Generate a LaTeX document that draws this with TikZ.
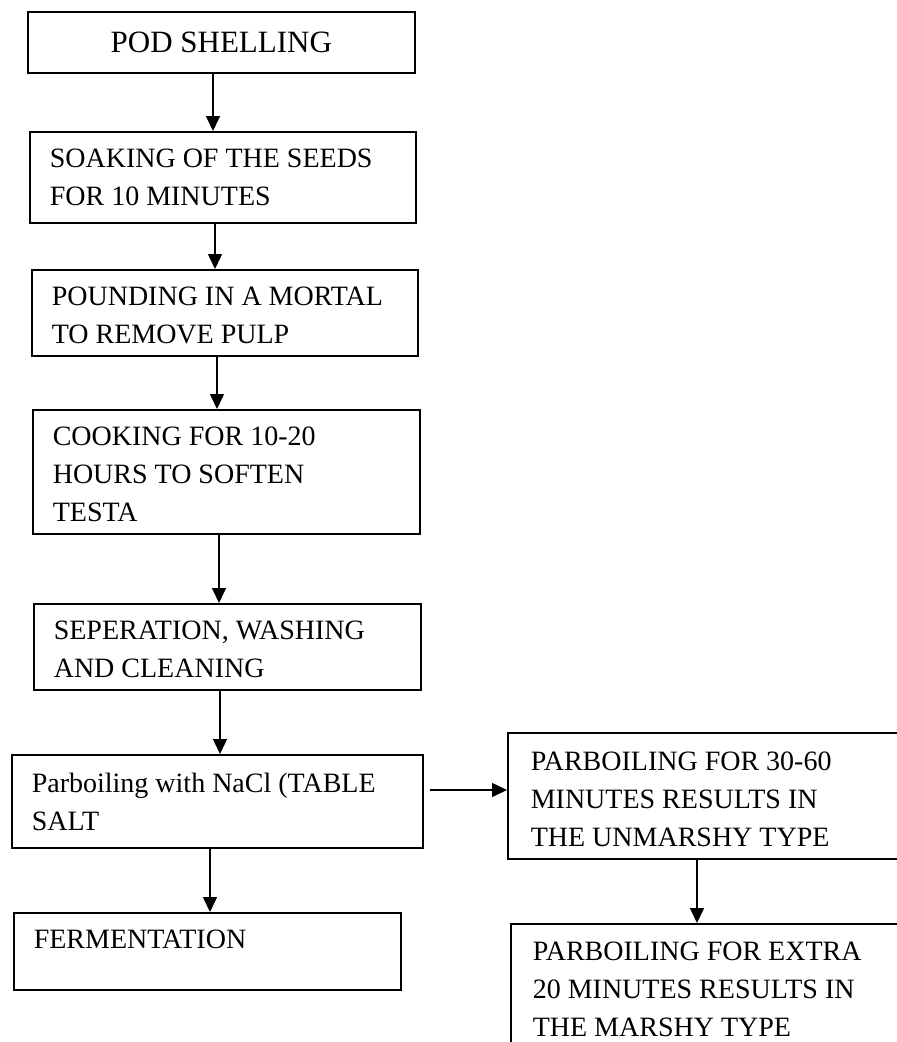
\documentclass[tikz,border=0pt]{standalone}
\usepackage{fontspec}
\setmainfont{Liberation Serif}
\usepackage{tikz}
\usetikzlibrary{arrows.meta, positioning}

% text of a box: first baseline #1 below the top, width #2, height #3
\newcommand{\stagetext}[4][36pt]{\parbox[c][#3][t]{#2}{\raggedright\rule{0pt}{#1}#4}}

\tikzset{
  stage/.style={draw, line width=1.6pt, anchor=north west, inner xsep=20pt, inner ysep=0pt,
    font=\fontsize{28}{38}\selectfont},
  flow/.style={line width=1.5pt, -{Triangle[length=15pt, width=14pt]}}
}

\begin{document}
\begin{tikzpicture}[x=1pt, y=-1pt]
  \useasboundingbox (0,0) rectangle (897,1042);
  \clip (0,0) rectangle (897,1042);

  % Main column
  \node[stage, inner xsep=0pt, minimum width=387pt, minimum height=61pt, font=\fontsize{31}{38}\selectfont] (pod) at (27,11) {POD SHELLING};
  \node[stage] (soak) at (29,131) {\stagetext{346pt}{91pt}{SOAKING OF THE SEEDS\\FOR 10 MINUTES}};
  \node[stage] (pound) at (31,269) {\stagetext{346pt}{86pt}{POUNDING IN A MORTAL\\TO REMOVE PULP}};
  \node[stage] (cook) at (32,409) {\stagetext{347pt}{124pt}{COOKING FOR 10-20\\HOURS TO SOFTEN\\TESTA}};
  \node[stage] (sep) at (33,603) {\stagetext{347pt}{86pt}{SEPERATION, WASHING\\AND CLEANING}};
  \node[stage] (parb) at (11,754) {\stagetext[38pt]{371pt}{93pt}{Parboiling with NaCl (TABLE\\SALT}};
  \node[stage] (ferm) at (13,912) {\stagetext{347pt}{77pt}{FERMENTATION}};

  % Side branch
  \node[stage, inner xsep=23pt] (unm) at (507,732) {\stagetext[38pt]{354pt}{126pt}{PARBOILING FOR 30-60\\MINUTES RESULTS IN\\THE UNMARSHY TYPE}};
  \node[stage, inner xsep=22pt] (mar) at (510,923) {\stagetext[37pt]{356pt}{140pt}{PARBOILING FOR EXTRA\\20 MINUTES RESULTS IN\\THE MARSHY TYPE}};

  % Arrows
  \draw[flow] (pod.south -| 213,0) -- (soak.north -| 213,0);
  \draw[flow] (soak.south -| 215,0) -- (pound.north -| 215,0);
  \draw[flow] (pound.south -| 217,0) -- (cook.north -| 217,0);
  \draw[flow] (cook.south -| 219,0) -- (sep.north -| 219,0);
  \draw[flow] (sep.south -| 220,0) -- (parb.north -| 220,0);
  \draw[flow] (parb.south -| 210,0) -- (ferm.north -| 210,0);
  \draw[flow] (parb.east |- 0,790) ++(6,0) -- (unm.west |- 0,790);
  \draw[flow] (unm.south -| 697,0) -- (mar.north -| 697,0);
\end{tikzpicture}
\end{document}
